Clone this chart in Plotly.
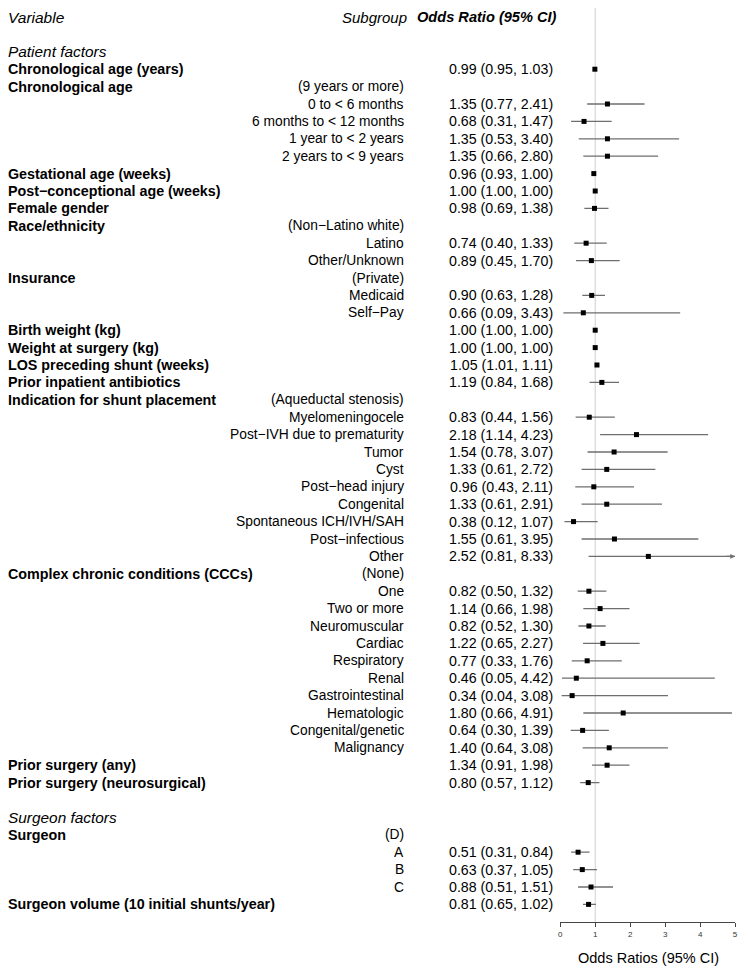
import plotly.graph_objects as go

#%% Table rows (top to bottom); '' means empty cell, None means no estimate
var_labels = ['', 'Patient factors', 'Chronological age (years)', 'Chronological age',
              '', '', '', '',
              'Gestational age (weeks)', 'Post\u2212conceptional age (weeks)', 'Female gender',
              'Race/ethnicity', '', '',
              'Insurance', '', '',
              'Birth weight (kg)', 'Weight at surgery (kg)', 'LOS preceding shunt (weeks)',
              'Prior inpatient antibiotics', 'Indication for shunt placement',
              '', '', '', '', '', '', '', '', '',
              'Complex chronic conditions (CCCs)',
              '', '', '', '', '', '', '', '', '', '',
              'Prior surgery (any)', 'Prior surgery (neurosurgical)',
              '', 'Surgeon factors', 'Surgeon', '', '', '',
              'Surgeon volume (10 initial shunts/year)']

sub_labels = ['', '', '', '(9 years or more)',
              '0 to < 6 months', '6 months to < 12 months', '1 year to < 2 years', '2 years to < 9 years',
              '', '', '',
              '(Non\u2212Latino white)', 'Latino', 'Other/Unknown',
              '(Private)', 'Medicaid', 'Self\u2212Pay',
              '', '', '',
              '', '(Aqueductal stenosis)',
              'Myelomeningocele', 'Post\u2212IVH due to prematurity', 'Tumor', 'Cyst', 'Post\u2212head injury',
              'Congenital', 'Spontaneous ICH/IVH/SAH', 'Post\u2212infectious', 'Other',
              '(None)',
              'One', 'Two or more', 'Neuromuscular', 'Cardiac', 'Respiratory', 'Renal',
              'Gastrointestinal', 'Hematologic', 'Congenital/genetic', 'Malignancy',
              '', '',
              '', '', '(D)', 'A', 'B', 'C',
              '']

or_est = [None, None, 0.99, None,
          1.35, 0.68, 1.35, 1.35,
          0.96, 1.00, 0.98,
          None, 0.74, 0.89,
          None, 0.90, 0.66,
          1.00, 1.00, 1.05,
          1.19, None,
          0.83, 2.18, 1.54, 1.33, 0.96, 1.33, 0.38, 1.55, 2.52,
          None,
          0.82, 1.14, 0.82, 1.22, 0.77, 0.46, 0.34, 1.80, 0.64, 1.40,
          1.34, 0.80,
          None, None, None, 0.51, 0.63, 0.88,
          0.81]

ci_lo = [None, None, 0.95, None,
         0.77, 0.31, 0.53, 0.66,
         0.93, 1.00, 0.69,
         None, 0.40, 0.45,
         None, 0.63, 0.09,
         1.00, 1.00, 1.01,
         0.84, None,
         0.44, 1.14, 0.78, 0.61, 0.43, 0.61, 0.12, 0.61, 0.81,
         None,
         0.50, 0.66, 0.52, 0.65, 0.33, 0.05, 0.04, 0.66, 0.30, 0.64,
         0.91, 0.57,
         None, None, None, 0.31, 0.37, 0.51,
         0.65]

ci_hi = [None, None, 1.03, None,
         2.41, 1.47, 3.40, 2.80,
         1.00, 1.00, 1.38,
         None, 1.33, 1.70,
         None, 1.28, 3.43,
         1.00, 1.00, 1.11,
         1.68, None,
         1.56, 4.23, 3.07, 2.72, 2.11, 2.91, 1.07, 3.95, 8.33,
         None,
         1.32, 1.98, 1.30, 2.27, 1.76, 4.42, 3.08, 4.91, 1.39, 3.08,
         1.98, 1.12,
         None, None, None, 0.84, 1.05, 1.51,
         1.02]

section_rows = ['Patient factors', 'Surgeon factors']
x_ticks = [0, 1, 2, 3, 4, 5]
x_max = 5

#%% Layout helpers
W, H = 749, 973
ROW0, STEP = 17, 17.4  # pixel of header row, row spacing
FONT = 'Liberation Sans, Arial, Helvetica, sans-serif'
X_VAR, X_SUB, X_OR = 4, 407, 557  # column anchors (px)


def px(x):
    return x / W


rows = list(range(1, len(var_labels) + 1))  # header is row 0

#%% Forest marks
ys, xs, plus, minus = [], [], [], []
arrows = []
for r, o, lo, hi in zip(rows, or_est, ci_lo, ci_hi):
    if o is None:
        continue
    ys.append(r)
    xs.append(o)
    top = min(hi, x_max)
    plus.append(top - o)
    minus.append(o - lo)
    if hi > x_max:
        arrows.append(r)

fig = go.Figure()
fig.add_trace(go.Scatter(
    x=xs, y=ys, mode='markers',
    marker=dict(symbol='square', size=5, color='black'),
    error_x=dict(type='data', symmetric=False, array=plus, arrayminus=minus,
                 color='#6e6e6e', thickness=1.3, width=0),
    cliponaxis=False, hoverinfo='skip', showlegend=False))

# reference line at OR = 1
fig.add_shape(type='line', x0=1, x1=1, xref='x', y0=0, y1=1, yref='y domain',
              line=dict(color='#cfcfcf', width=1), layer='below')

ann = []
for r in arrows:
    ann.append(dict(x=x_max, y=r, ax=x_max - 0.3, ay=r, xref='x', yref='y',
                    axref='x', ayref='y', text='', showarrow=True,
                    arrowhead=2, arrowsize=0.8, arrowwidth=1.2, arrowcolor='#6e6e6e'))

#%% Text columns
ann.append(dict(x=px(X_VAR), y=0, xref='paper', yref='y', text='<i>Variable</i>',
                xanchor='left', showarrow=False, font=dict(size=15.5)))
ann.append(dict(x=px(X_SUB + 3), y=0, xref='paper', yref='y', text='<i>Subgroup</i>',
                xanchor='right', showarrow=False, font=dict(size=15)))
ann.append(dict(x=px(X_OR + 4), y=0, xref='paper', yref='y', text='<b><i>Odds Ratio (95% CI)</i></b>',
                xanchor='right', showarrow=False, font=dict(size=14.6)))

for r, v, s, o, lo, hi in zip(rows, var_labels, sub_labels, or_est, ci_lo, ci_hi):
    if v:
        if v in section_rows:
            txt, fs = '<i>%s</i>' % v, 15.4
        else:
            txt, fs = '<b>%s</b>' % v, 14.3
        ann.append(dict(x=px(X_VAR), y=r, xref='paper', yref='y', text=txt,
                        xanchor='left', showarrow=False, font=dict(size=fs)))
    if s:
        ann.append(dict(x=px(X_SUB), y=r, xref='paper', yref='y', text=s,
                        xanchor='right', showarrow=False, font=dict(size=13.8)))
    if o is not None:
        ann.append(dict(x=px(X_OR), y=r, xref='paper', yref='y',
                        text='%.2f (%.2f, %.2f)' % (o, lo, hi),
                        xanchor='right', showarrow=False, font=dict(size=14.2)))

ann.append(dict(x=px(651), y=(H - 958) / H, xref='paper', yref='paper',
                xanchor='center', yanchor='middle',
                text='Odds Ratios (95% CI)', showarrow=False, font=dict(size=14.5)))

y_bot = (922 - ROW0) / STEP
y_top = (8 - ROW0) / STEP

fig.update_layout(
    width=W, height=H,
    margin=dict(l=0, r=0, t=0, b=0),
    paper_bgcolor='white', plot_bgcolor='white',
    font=dict(family=FONT, color='black'),
    annotations=ann,
    xaxis=dict(domain=[px(562), px(738)], range=[0, x_max], tickvals=x_ticks,
               showgrid=False, zeroline=False, showline=True, linecolor='#444',
               linewidth=1, ticks='outside', ticklen=4, tickcolor='#444',
               tickfont=dict(size=8, color='#333')),
    yaxis=dict(domain=[(H - 922) / H, (H - 8) / H], range=[y_bot, y_top],
               visible=False, showgrid=False, zeroline=False),
)

# the page body has a default 8px margin; drop it so the figure fills the window
fig.write_html("out.html", config={'displayModeBar': False},
               post_script="document.body.style.margin='0';")
